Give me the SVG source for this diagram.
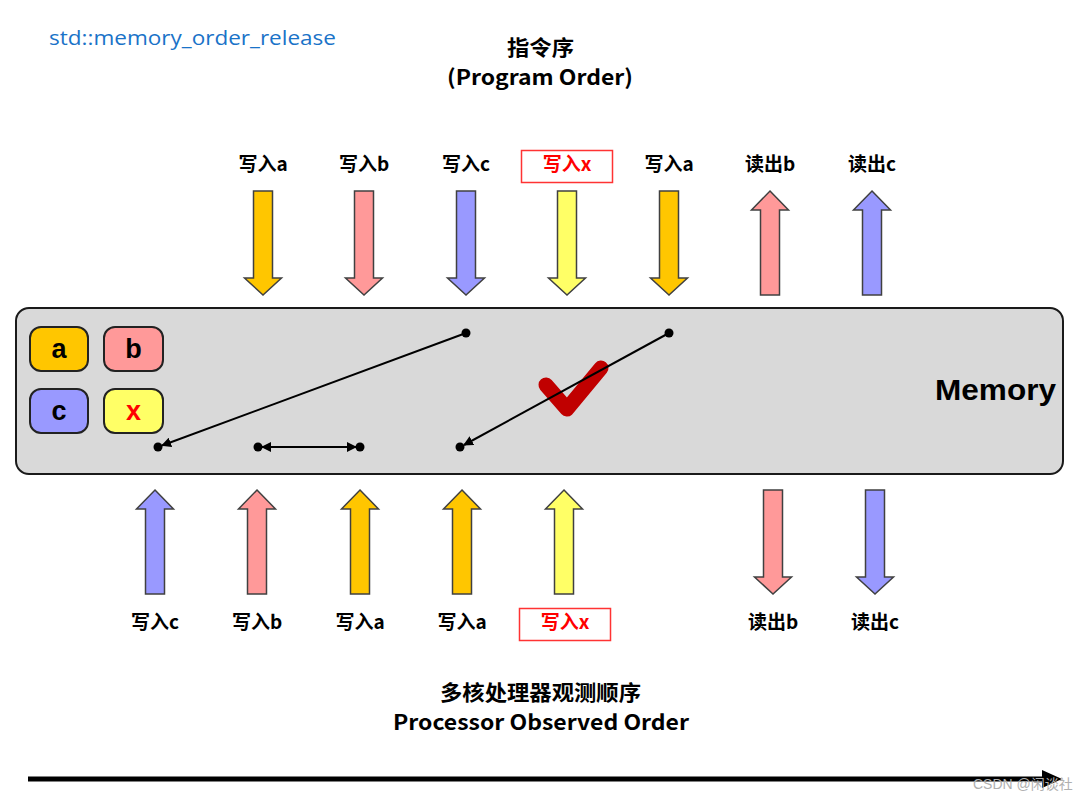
<svg xmlns="http://www.w3.org/2000/svg" width="1089" height="802" viewBox="0 0 1089 802">
<defs>
<style>
.lbl{font-family:"Noto Sans CJK SC","Liberation Sans",sans-serif;font-weight:bold;font-size:19px;fill:#000;text-anchor:middle}
.red{fill:#ff0000}
.title{font-family:"Noto Sans CJK SC","Liberation Sans",sans-serif;font-weight:bold;font-size:21px;fill:#000}
.arr{stroke:#404040;stroke-width:1.5;stroke-linejoin:miter}
.ya{fill:#ffc600}.pk{fill:#ff9999}.bl{fill:#9999ff}.yl{fill:#ffff66}
.rbox{fill:#fff;stroke:#ff3333;stroke-width:1.5}
.sbox{stroke:#222;stroke-width:2}
.boxt{font-family:"Liberation Sans",sans-serif;font-weight:bold;font-size:27px;text-anchor:middle}
.dot{fill:#000}
.conn{stroke:#000;stroke-width:2;fill:none}
</style>
<marker id="ah" viewBox="0 0 10 10" refX="9" refY="5" markerWidth="5" markerHeight="5" orient="auto-start-reverse" markerUnits="strokeWidth">
<path d="M0,0 L10,5 L0,10 z" fill="#000"/>
</marker>
<path id="dn" d="M-9.5,0 H9.5 V87 H18.5 L0,104 L-18.5,87 H-9.5 Z"/>
<path id="up" d="M0,0 L18.5,19 H9.5 V104 H-9.5 V19 H-18.5 Z"/>
</defs>
<rect width="1089" height="802" fill="#fff"/>

<text x="49" y="45" font-family="'Open Sans','Noto Sans',sans-serif" font-size="20" fill="#1a73c8" textLength="287" lengthAdjust="spacingAndGlyphs">std::memory_order_release</text>

<g id="title-top">
<text class="title" x="507" y="55" textLength="67" lengthAdjust="spacingAndGlyphs">指令序</text>
<text class="title" x="447" y="85" textLength="186" lengthAdjust="spacingAndGlyphs">(Program Order)</text>
</g>

<g id="top-ops">
<g id="t1"><text class="lbl" x="263" y="171">写入a</text><use href="#dn" x="263" y="191" class="arr ya"/></g>
<g id="t2"><text class="lbl" x="364" y="171">写入b</text><use href="#dn" x="364" y="191" class="arr pk"/></g>
<g id="t3"><text class="lbl" x="466" y="171">写入c</text><use href="#dn" x="466" y="191" class="arr bl"/></g>
<g id="t4"><rect class="rbox" x="521.5" y="150.5" width="91" height="32"/><text class="lbl red" x="567" y="171">写入x</text><use href="#dn" x="567" y="191" class="arr yl"/></g>
<g id="t5"><text class="lbl" x="669" y="171">写入a</text><use href="#dn" x="669" y="191" class="arr ya"/></g>
<g id="t6"><text class="lbl" x="770" y="171">读出b</text><use href="#up" x="770" y="191" class="arr pk"/></g>
<g id="t7"><text class="lbl" x="872" y="171">读出c</text><use href="#up" x="872" y="191" class="arr bl"/></g>
</g>

<g id="memory">
<rect x="16" y="308" width="1047" height="166" rx="13" fill="#d9d9d9" stroke="#1a1a1a" stroke-width="2"/>
<text x="935" y="400" font-family="'Liberation Sans',sans-serif" font-weight="bold" font-size="29" textLength="121" lengthAdjust="spacingAndGlyphs">Memory</text>
<g id="var-a"><rect class="sbox ya" x="30" y="327" width="58" height="44" rx="11"/><text class="boxt" x="59" y="358">a</text></g>
<g id="var-b"><rect class="sbox pk" x="104" y="327" width="59" height="44" rx="11"/><text class="boxt" x="133.5" y="358">b</text></g>
<g id="var-c"><rect class="sbox bl" x="30" y="389" width="58" height="44" rx="11"/><text class="boxt" x="59" y="420">c</text></g>
<g id="var-x"><rect class="sbox yl" x="104" y="389" width="59" height="44" rx="11"/><text class="boxt" x="133.5" y="420" fill="#ff0000">x</text></g>
<path id="check" d="M546,385 L567,409 L601,368" fill="none" stroke="#c00000" stroke-width="15" stroke-linecap="round" stroke-linejoin="round"/>
</g>

<g id="connectors">
<line class="conn" x1="466" y1="333" x2="162" y2="445.5" marker-end="url(#ah)"/>
<line class="conn" x1="669" y1="333" x2="464" y2="445" marker-end="url(#ah)"/>
<line class="conn" x1="262" y1="447" x2="356" y2="447" marker-start="url(#ah)" marker-end="url(#ah)"/>
<circle class="dot" cx="466" cy="333" r="4.5"/>
<circle class="dot" cx="669" cy="333" r="4.5"/>
<circle class="dot" cx="158" cy="447" r="4.5"/>
<circle class="dot" cx="258" cy="447" r="4.5"/>
<circle class="dot" cx="360" cy="447" r="4.5"/>
<circle class="dot" cx="460" cy="447" r="4.5"/>
</g>

<g id="bottom-ops">
<g id="b1"><use href="#up" x="155" y="490" class="arr bl"/><text class="lbl" x="155" y="629">写入c</text></g>
<g id="b2"><use href="#up" x="257" y="490" class="arr pk"/><text class="lbl" x="257" y="629">写入b</text></g>
<g id="b3"><use href="#up" x="360" y="490" class="arr ya"/><text class="lbl" x="360" y="629">写入a</text></g>
<g id="b4"><use href="#up" x="462" y="490" class="arr ya"/><text class="lbl" x="462" y="629">写入a</text></g>
<g id="b5"><use href="#up" x="564" y="490" class="arr yl"/><rect class="rbox" x="519.5" y="608.5" width="91" height="32"/><text class="lbl red" x="565" y="629">写入x</text></g>
<g id="b6"><use href="#dn" x="773" y="490" class="arr pk"/><text class="lbl" x="773" y="629">读出b</text></g>
<g id="b7"><use href="#dn" x="875" y="490" class="arr bl"/><text class="lbl" x="875" y="629">读出c</text></g>
</g>

<g id="title-bottom">
<text class="title" x="440" y="700" textLength="201" lengthAdjust="spacingAndGlyphs">多核处理器观测顺序</text>
<text class="title" x="393" y="730" textLength="296" lengthAdjust="spacingAndGlyphs">Processor Observed Order</text>
</g>

<g id="timeline">
<line x1="28" y1="779" x2="1046" y2="779" stroke="#000" stroke-width="5"/>
<path d="M1042,770 L1062,779 L1042,788 Z" fill="#000"/>
</g>
<text x="973" y="789" font-family="'Liberation Sans','Noto Sans CJK SC',sans-serif" font-size="14" fill="#b0b0b0">CSDN @闲谈社</text>
</svg>
